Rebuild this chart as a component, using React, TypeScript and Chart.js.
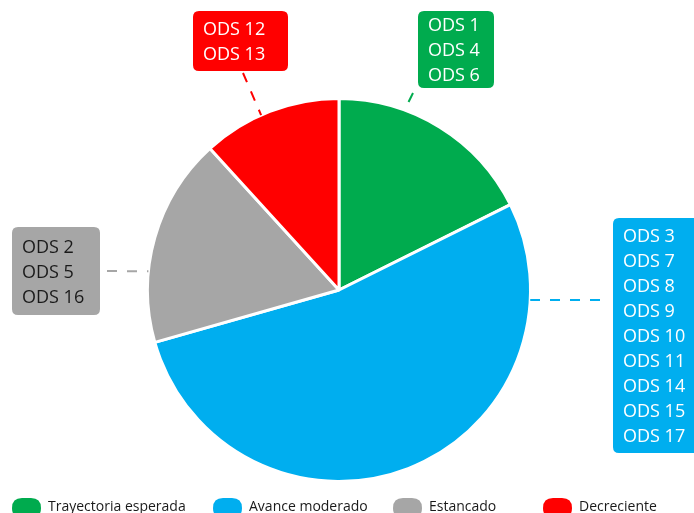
import React, { useEffect, useRef } from "react";
import { Chart, registerables } from "chart.js";

Chart.register(...registerables);

// Estado de avance de los ODS (número de objetivos por categoría)
const categories = ["Trayectoria esperada", "Avance moderado", "Estancado", "Decreciente"];
const counts = [3, 9, 3, 2];
const colors = ["#00ab4e", "#00aeef", "#a6a6a6", "#ff0000"];
const odsLabels: string[][] = [
  ["ODS 1", "ODS 4", "ODS 6"],
  ["ODS 3", "ODS 7", "ODS 8", "ODS 9", "ODS 10", "ODS 11", "ODS 14", "ODS 15", "ODS 17"],
  ["ODS 2", "ODS 5", "ODS 16"],
  ["ODS 12", "ODS 13"],
];
const textColors = ["#ffffff", "#ffffff", "#1a1a1a", "#ffffff"];

// Callout placement: box rectangle, leader angle on the rim (degrees from top, clockwise) and box end of the leader
const callouts = [
  { x: 418, y: 11, w: 76, h: 77, angle: 20, end: [413, 93] },
  { x: 613, y: 218, w: 90, h: 235, angle: 93, end: [600, 300] },
  { x: 12, y: 227, w: 88, h: 88, angle: 275.6, end: [107, 271] },
  { x: 193, y: 11, w: 95, h: 60, angle: 336, end: [243, 73] },
];
const legendX = [12, 213, 393, 543];

const FONT = "'Open Sans', 'DejaVu Sans', sans-serif";

function roundRect(ctx: CanvasRenderingContext2D, x: number, y: number, w: number, h: number, r: number) {
  ctx.beginPath();
  ctx.moveTo(x + r, y);
  ctx.lineTo(x + w - r, y);
  ctx.quadraticCurveTo(x + w, y, x + w, y + r);
  ctx.lineTo(x + w, y + h - r);
  ctx.quadraticCurveTo(x + w, y + h, x + w - r, y + h);
  ctx.lineTo(x + r, y + h);
  ctx.quadraticCurveTo(x, y + h, x, y + h - r);
  ctx.lineTo(x, y + r);
  ctx.quadraticCurveTo(x, y, x + r, y);
  ctx.closePath();
}

const calloutPlugin = {
  id: "odsCallouts",
  afterDraw(chart: any) {
    const ctx: CanvasRenderingContext2D = chart.ctx;
    const arc = chart.getDatasetMeta(0).data[0] as any;
    const cx = arc.x;
    const cy = arc.y;
    const r = arc.outerRadius;
    ctx.save();
    callouts.forEach((c, i) => {
      const a = (c.angle * Math.PI) / 180;
      const px = cx + r * Math.sin(a);
      const py = cy - r * Math.cos(a);
      ctx.setLineDash([10, 10]);
      ctx.lineWidth = 2;
      ctx.strokeStyle = colors[i];
      ctx.beginPath();
      ctx.moveTo(c.end[0], c.end[1]);
      ctx.lineTo(px, py);
      ctx.stroke();
      ctx.setLineDash([]);

      roundRect(ctx, c.x, c.y, c.w, c.h, 6);
      ctx.fillStyle = colors[i];
      ctx.fill();

      ctx.fillStyle = textColors[i];
      ctx.font = `18px ${FONT}`;
      ctx.textAlign = "left";
      ctx.textBaseline = "alphabetic";
      const lines = odsLabels[i];
      const step = 25;
      const top = c.y + c.h / 2 - ((lines.length - 1) * step) / 2;
      lines.forEach((t, j) => ctx.fillText(t, c.x + 10, top + j * step + 6.5));
    });

    // Legend row
    categories.forEach((name, i) => {
      const x = legendX[i];
      roundRect(ctx, x, 498, 29, 20, 10);
      ctx.fillStyle = colors[i];
      ctx.fill();
      ctx.fillStyle = "#1a1a1a";
      ctx.font = `14px ${FONT}`;
      ctx.textAlign = "left";
      ctx.textBaseline = "alphabetic";
      ctx.fillText(name, x + 36, 511);
    });
    ctx.restore();
  },
};

export default function App() {
  const ref = useRef<HTMLCanvasElement | null>(null);

  useEffect(() => {
    document.body.style.margin = "0";
    if (!ref.current) return;
    const chart = new Chart(ref.current, {
      type: "pie",
      data: {
        labels: categories,
        datasets: [
          {
            data: counts,
            backgroundColor: colors,
            borderColor: "#ffffff",
            borderWidth: 3,
          },
        ],
      },
      options: {
        animation: false,
        responsive: false,
        layout: { padding: { left: 146, right: 162, top: 97, bottom: 30 } },
        plugins: {
          legend: { display: false },
          tooltip: { enabled: false },
        },
      },
      plugins: [calloutPlugin],
    });
    return () => chart.destroy();
  }, []);

  return (
    <div style={{ width: 694, height: 513, background: "#ffffff" }}>
      <canvas ref={ref} width={694} height={513} />
    </div>
  );
}
